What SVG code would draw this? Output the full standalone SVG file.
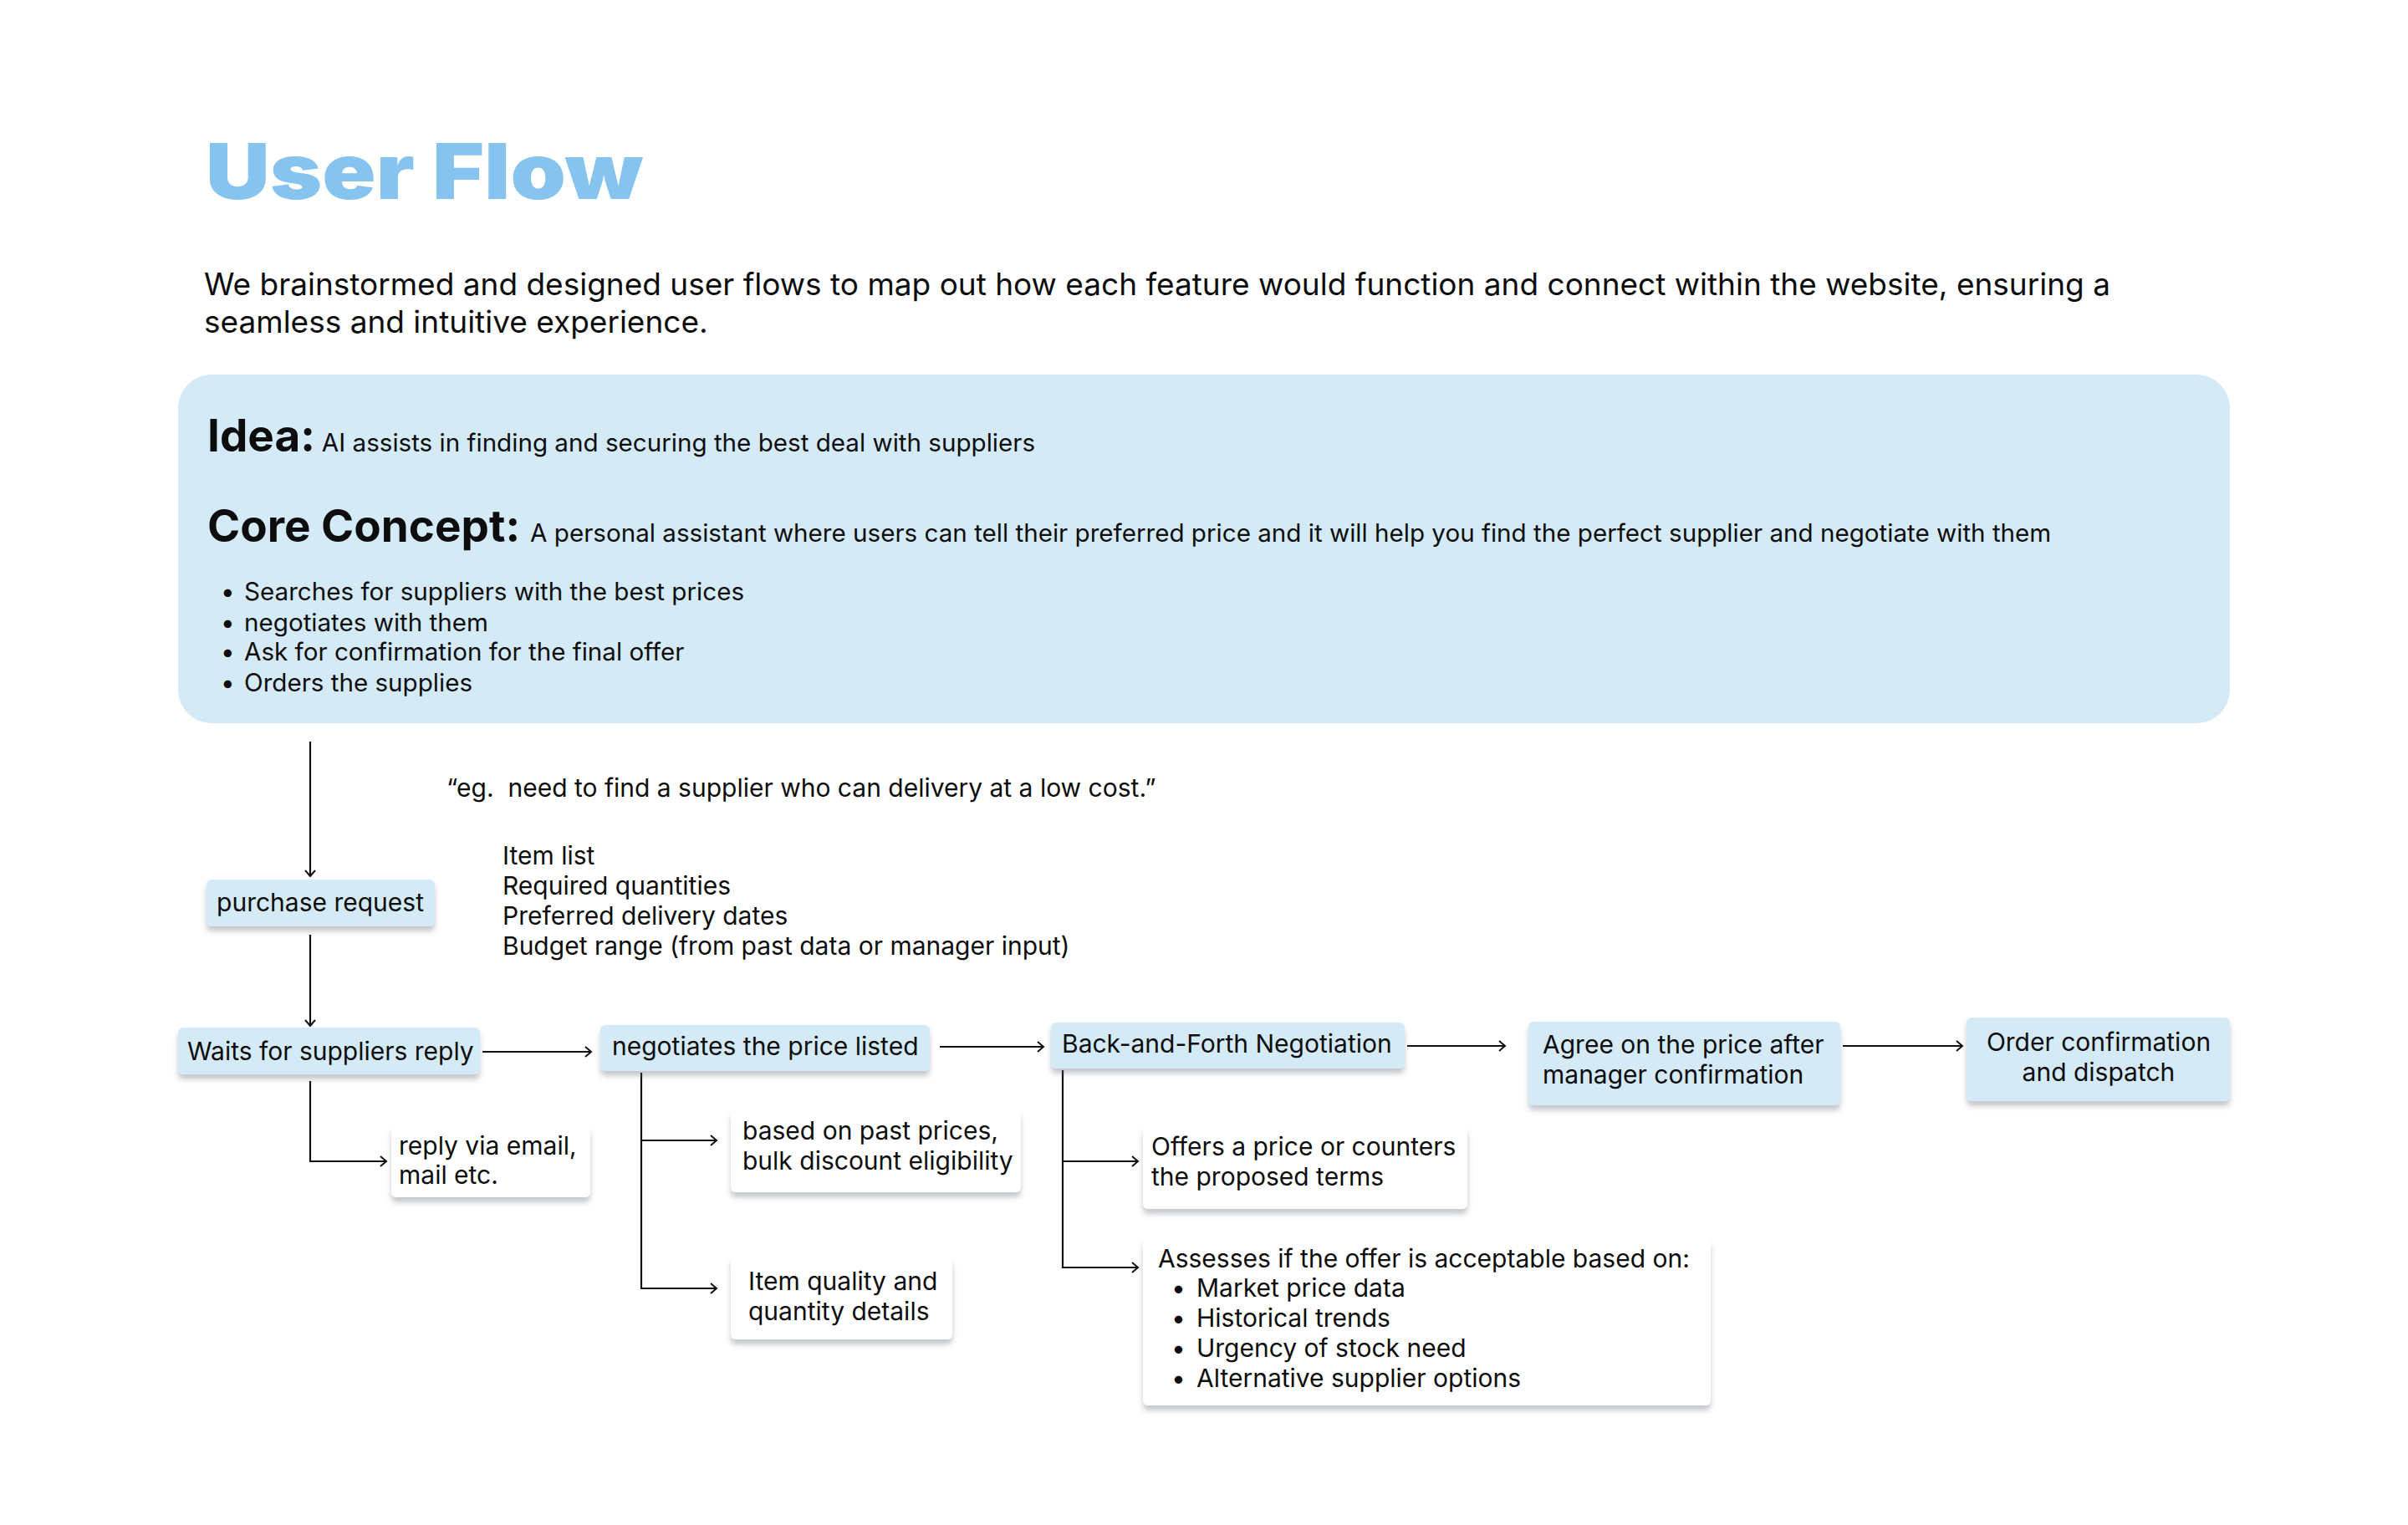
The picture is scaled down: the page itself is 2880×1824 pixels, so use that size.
<svg xmlns="http://www.w3.org/2000/svg" width="2880" height="1824" viewBox="0 0 2880 1824">
<style>
text{font-family:Inter,"Noto Sans","Liberation Sans",sans-serif;fill:#0d0d0d}
.title{font-size:92px;font-weight:900;fill:#86C3EE}
.para{font-size:37px}
.h{font-size:53px;font-weight:700}
.s{font-size:29.6px}
.t{font-size:30px}
.n{font-size:30px}
.blue{fill:#D4EAF7}
.white{fill:#ffffff}
.conn{stroke:#111;stroke-width:2.2;fill:none}
</style>
<defs>
<filter id="sh" x="-10%" y="-20%" width="120%" height="160%">
<feDropShadow dx="0" dy="6" stdDeviation="3" flood-color="#5a6470" flood-opacity="0.35"/>
</filter>
<marker id="ar" markerWidth="14" markerHeight="16" refX="9" refY="8" orient="auto" markerUnits="userSpaceOnUse">
<path d="M2,2 L9,8 L2,14" fill="none" stroke="#111" stroke-width="2"/>
</marker>
</defs>
<rect width="2880" height="1824" fill="#ffffff"/>

<g id="header">
<text class="title" x="246" y="238" textLength="523" lengthAdjust="spacingAndGlyphs">User Flow</text>
<text class="para" x="244" y="353">We brainstormed and designed user flows to map out how each feature would function and connect within the website, ensuring a</text>
<text class="para" x="244" y="398">seamless and intuitive experience.</text>
</g>

<g id="idea-box">
<rect x="213" y="448" width="2454" height="417" rx="40" class="blue"/>
<text x="248" y="540"><tspan class="h">Idea:</tspan><tspan class="s" dx="8">AI assists in finding and securing the best deal with suppliers</tspan></text>
<text x="248" y="648"><tspan class="h">Core Concept:</tspan><tspan class="s" dx="12">A personal assistant where users can tell their preferred price and it will help you find the perfect supplier and negotiate with them</tspan></text>
<g>
<text class="s" x="264" y="718">•</text><text class="s" x="292" y="718">Searches for suppliers with the best prices</text>
<text class="s" x="264" y="755">•</text><text class="s" x="292" y="755">negotiates with them</text>
<text class="s" x="264" y="790">•</text><text class="s" x="292" y="790">Ask for confirmation for the final offer</text>
<text class="s" x="264" y="827">•</text><text class="s" x="292" y="827">Orders the supplies</text>
</g>
</g>

<g id="notes">
<text class="t" x="534" y="953">“eg.&#160; need to find a supplier who can delivery at a low cost.”</text>
<text class="t" x="601" y="1034">Item list</text>
<text class="t" x="601" y="1070">Required quantities</text>
<text class="t" x="601" y="1106">Preferred delivery dates</text>
<text class="t" x="601" y="1142">Budget range (from past data or manager input)</text>
</g>

<g id="connectors">
<line class="conn" x1="371" y1="887" x2="371" y2="1048" marker-end="url(#ar)"/>
<line class="conn" x1="371" y1="1118" x2="371" y2="1227" marker-end="url(#ar)"/>
<line class="conn" x1="577" y1="1258" x2="707" y2="1258" marker-end="url(#ar)"/>
<polyline class="conn" points="371,1293 371,1389 462,1389" marker-end="url(#ar)"/>
<line class="conn" x1="1124" y1="1252" x2="1248" y2="1252" marker-end="url(#ar)"/>
<polyline class="conn" points="767,1283 767,1364 857,1364" marker-end="url(#ar)"/>
<polyline class="conn" points="767,1364 767,1541 857,1541" marker-end="url(#ar)"/>
<line class="conn" x1="1683" y1="1251" x2="1800" y2="1251" marker-end="url(#ar)"/>
<line class="conn" x1="2204" y1="1251" x2="2347" y2="1251" marker-end="url(#ar)"/>
<polyline class="conn" points="1271,1280 1271,1389 1361,1389" marker-end="url(#ar)"/>
<polyline class="conn" points="1271,1389 1271,1516 1361,1516" marker-end="url(#ar)"/>
</g>

<g id="purchase-request">
<rect x="247" y="1052" width="273" height="56" rx="6" class="blue" filter="url(#sh)"/>
<text class="n" x="383" y="1090" text-anchor="middle">purchase request</text>
</g>

<g id="waits">
<rect x="213" y="1229" width="361" height="56" rx="6" class="blue" filter="url(#sh)"/>
<text class="n" x="224" y="1268">Waits for suppliers reply</text>
</g>

<g id="reply">
<rect x="468" y="1347" width="238" height="85" rx="6" class="white" filter="url(#sh)"/>
<text class="n" x="477" y="1381">reply via email,</text>
<text class="n" x="477" y="1416">mail etc.</text>
</g>

<g id="negotiates">
<rect x="718" y="1226" width="394" height="55" rx="6" class="blue" filter="url(#sh)"/>
<text class="n" x="732" y="1262">negotiates the price listed</text>
</g>

<g id="based-on">
<rect x="874" y="1328" width="347" height="98" rx="6" class="white" filter="url(#sh)"/>
<text class="n" x="888" y="1363">based on past prices,</text>
<text class="n" x="888" y="1399">bulk discount eligibility</text>
</g>

<g id="item-quality">
<rect x="874" y="1503" width="265" height="99" rx="6" class="white" filter="url(#sh)"/>
<text class="n" x="895" y="1543">Item quality and</text>
<text class="n" x="895" y="1579">quantity details</text>
</g>

<g id="back-and-forth">
<rect x="1257" y="1223" width="423" height="55" rx="6" class="blue" filter="url(#sh)"/>
<text class="n" x="1270" y="1259">Back-and-Forth Negotiation</text>
</g>

<g id="offers">
<rect x="1367" y="1347" width="388" height="99" rx="6" class="white" filter="url(#sh)"/>
<text class="n" x="1377" y="1382">Offers a price or counters</text>
<text class="n" x="1377" y="1418">the proposed terms</text>
</g>

<g id="assesses">
<rect x="1367" y="1482" width="679" height="199" rx="6" class="white" filter="url(#sh)"/>
<text class="n" x="1385" y="1516">Assesses if the offer is acceptable based on:</text>
<text class="n" x="1401" y="1551">•</text><text class="n" x="1431" y="1551">Market price data</text>
<text class="n" x="1401" y="1587">•</text><text class="n" x="1431" y="1587">Historical trends</text>
<text class="n" x="1401" y="1623">•</text><text class="n" x="1431" y="1623">Urgency of stock need</text>
<text class="n" x="1401" y="1659">•</text><text class="n" x="1431" y="1659">Alternative supplier options</text>
</g>

<g id="agree">
<rect x="1828" y="1222" width="373" height="100" rx="6" class="blue" filter="url(#sh)"/>
<text class="n" x="1845" y="1260">Agree on the price after</text>
<text class="n" x="1845" y="1296">manager confirmation</text>
</g>

<g id="order">
<rect x="2352" y="1217" width="315" height="100" rx="6" class="blue" filter="url(#sh)"/>
<text class="n" x="2510" y="1257" text-anchor="middle">Order confirmation</text>
<text class="n" x="2510" y="1293" text-anchor="middle">and dispatch</text>
</g>
</svg>
